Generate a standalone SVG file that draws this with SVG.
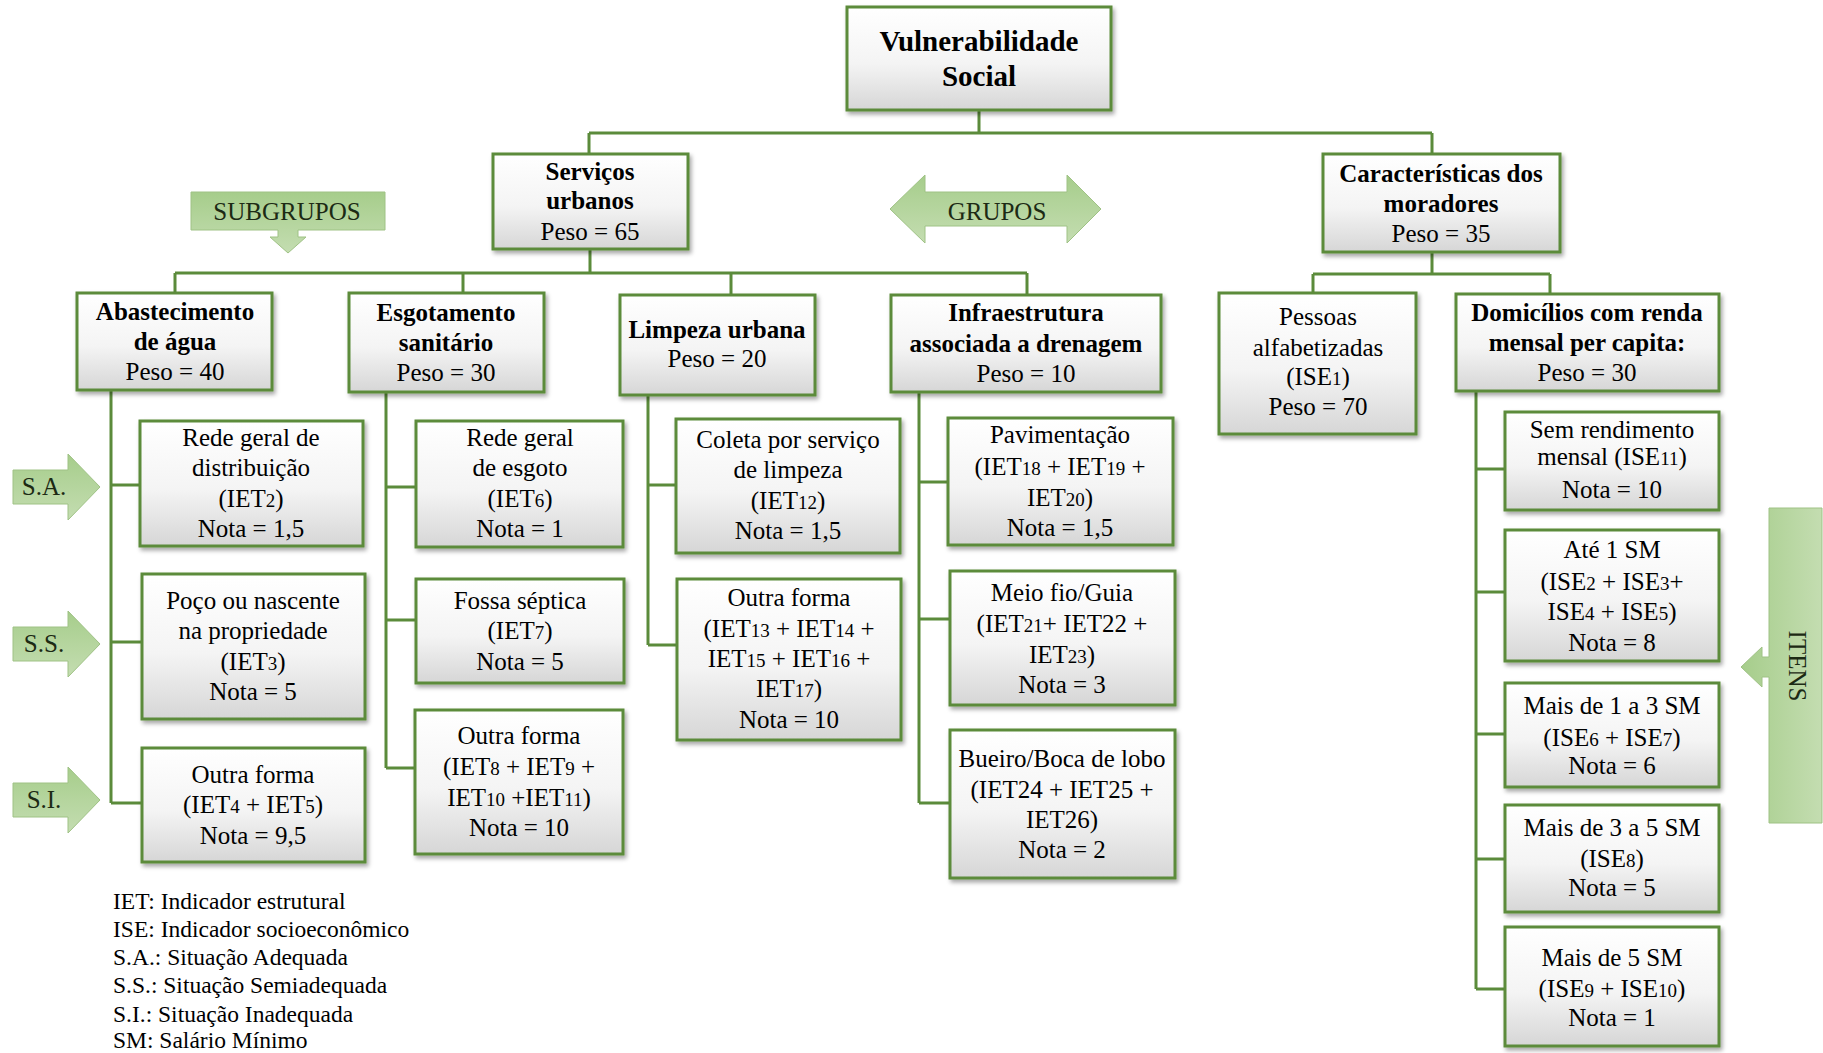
<svg xmlns="http://www.w3.org/2000/svg" width="1823" height="1053" viewBox="0 0 1823 1053">
<defs>
<linearGradient id="bx" x1="0" y1="0" x2="0" y2="1">
<stop offset="0" stop-color="#ffffff"/>
<stop offset="0.55" stop-color="#f4f4f4"/>
<stop offset="1" stop-color="#d6d6d6"/>
</linearGradient>
<linearGradient id="ag" x1="0" y1="0" x2="0" y2="1">
<stop offset="0" stop-color="#a6cd8b"/>
<stop offset="1" stop-color="#c4ddb1"/>
</linearGradient>
<linearGradient id="agh" x1="0" y1="0" x2="1" y2="0">
<stop offset="0" stop-color="#a6cd8b"/>
<stop offset="1" stop-color="#c4ddb1"/>
</linearGradient>
<filter id="sh" x="-10%" y="-10%" width="130%" height="130%">
<feDropShadow dx="2" dy="3" stdDeviation="2" flood-color="#000" flood-opacity="0.35"/>
</filter>
</defs>
<style>
.box{fill:url(#bx);stroke:#5b8b3b;stroke-width:3;filter:url(#sh)}
.ln{fill:none;stroke:#5b8b3b;stroke-width:3}
.arr{fill:url(#ag);stroke:#9fc285;stroke-width:1}
.t{font-family:"Liberation Serif","Times New Roman",serif;font-size:25px;fill:#000;text-anchor:middle}
.b{font-weight:bold}
.s{font-size:19px}
.lg{font-family:"Liberation Serif","Times New Roman",serif;font-size:23.5px;fill:#000}
.at{font-family:"Liberation Serif","Times New Roman",serif;font-size:25px;fill:#1c2a14;text-anchor:middle}
</style>
<rect width="1823" height="1053" fill="#ffffff"/>

<g id="connectors">
<path class="ln" d="M979,110 V133 M589,133 H1432 M589,133 V154 M1432,133 V154"/>
<path class="ln" d="M590,249 V273 M175,273 H1027 M175,273 V293 M463,273 V293 M731,273 V295 M1027,273 V295"/>
<path class="ln" d="M1432,252 V274 M1313,274 H1550 M1313,274 V294 M1550,274 V294"/>
<path class="ln" d="M111,390 V803 M111,485 H140 M111,642 H142 M111,803 H142"/>
<path class="ln" d="M386,392 V768 M386,487 H416 M386,620 H416 M386,768 H415"/>
<path class="ln" d="M648,395 V645 M648,485 H676 M648,645 H677"/>
<path class="ln" d="M919,392 V803 M919,482 H948 M919,619 H950 M919,803 H950"/>
<path class="ln" d="M1476,391 V989 M1476,469 H1505 M1476,592 H1505 M1476,734 H1505 M1476,859 H1505 M1476,989 H1505"/>
</g>

<g id="n-vulnerabilidade">
<rect class="box" x="847" y="7" width="264" height="103"/>
<text class="t b" x="979" y="51" style="font-size:29px">Vulnerabilidade</text>
<text class="t b" x="979" y="86" style="font-size:29px">Social</text>
</g>

<g id="n-servicos">
<rect class="box" x="493" y="154" width="195" height="95"/>
<text class="t b" x="590" y="180">Serviços</text>
<text class="t b" x="590" y="209">urbanos</text>
<text class="t" x="590" y="240">Peso = 65</text>
</g>

<g id="n-caracteristicas">
<rect class="box" x="1323" y="154" width="237" height="98"/>
<text class="t b" x="1441" y="182">Características dos</text>
<text class="t b" x="1441" y="212">moradores</text>
<text class="t" x="1441" y="242">Peso = 35</text>
</g>

<g id="n-abastecimento">
<rect class="box" x="77" y="293" width="195" height="97"/>
<text class="t b" x="175" y="320">Abastecimento</text>
<text class="t b" x="175" y="350">de água</text>
<text class="t" x="175" y="380">Peso = 40</text>
</g>

<g id="n-esgotamento">
<rect class="box" x="349" y="293" width="195" height="99"/>
<text class="t b" x="446" y="321">Esgotamento</text>
<text class="t b" x="446" y="351">sanitário</text>
<text class="t" x="446" y="381">Peso = 30</text>
</g>

<g id="n-limpeza">
<rect class="box" x="620" y="295" width="195" height="100"/>
<text class="t b" x="717" y="338">Limpeza urbana</text>
<text class="t" x="717" y="367">Peso = 20</text>
</g>

<g id="n-infraestrutura">
<rect class="box" x="891" y="295" width="270" height="97"/>
<text class="t b" x="1026" y="321">Infraestrutura</text>
<text class="t b" x="1026" y="352">associada a drenagem</text>
<text class="t" x="1026" y="382">Peso = 10</text>
</g>

<g id="n-pessoas">
<rect class="box" x="1219" y="293" width="197" height="141"/>
<text class="t" x="1318" y="325">Pessoas</text>
<text class="t" x="1318" y="356">alfabetizadas</text>
<text class="t" x="1318" y="385">(ISE<tspan class="s">1</tspan>)</text>
<text class="t" x="1318" y="415">Peso = 70</text>
</g>

<g id="n-domicilios">
<rect class="box" x="1456" y="294" width="263" height="97"/>
<text class="t b" x="1587" y="321">Domicílios com renda</text>
<text class="t b" x="1587" y="351">mensal per capita:</text>
<text class="t" x="1587" y="381">Peso = 30</text>
</g>

<g id="n-rede-distribuicao">
<rect class="box" x="140" y="421" width="223" height="125"/>
<text class="t" x="251" y="446">Rede geral de</text>
<text class="t" x="251" y="476">distribuição</text>
<text class="t" x="251" y="507">(IET<tspan class="s">2</tspan>)</text>
<text class="t" x="251" y="537">Nota = 1,5</text>
</g>

<g id="n-poco">
<rect class="box" x="142" y="574" width="223" height="145"/>
<text class="t" x="253" y="609">Poço ou nascente</text>
<text class="t" x="253" y="639">na propriedade</text>
<text class="t" x="253" y="670">(IET<tspan class="s">3</tspan>)</text>
<text class="t" x="253" y="700">Nota = 5</text>
</g>

<g id="n-outra-agua">
<rect class="box" x="142" y="748" width="223" height="114"/>
<text class="t" x="253" y="783">Outra forma</text>
<text class="t" x="253" y="813">(IET<tspan class="s">4</tspan> + IET<tspan class="s">5</tspan>)</text>
<text class="t" x="253" y="844">Nota = 9,5</text>
</g>

<g id="n-rede-esgoto">
<rect class="box" x="416" y="421" width="207" height="126"/>
<text class="t" x="520" y="446">Rede geral</text>
<text class="t" x="520" y="476">de esgoto</text>
<text class="t" x="520" y="507">(IET<tspan class="s">6</tspan>)</text>
<text class="t" x="520" y="537">Nota = 1</text>
</g>

<g id="n-fossa">
<rect class="box" x="416" y="579" width="208" height="104"/>
<text class="t" x="520" y="609">Fossa séptica</text>
<text class="t" x="520" y="639">(IET<tspan class="s">7</tspan>)</text>
<text class="t" x="520" y="670">Nota = 5</text>
</g>

<g id="n-outra-esgoto">
<rect class="box" x="415" y="710" width="208" height="144"/>
<text class="t" x="519" y="744">Outra forma</text>
<text class="t" x="519" y="775">(IET<tspan class="s">8</tspan> + IET<tspan class="s">9</tspan> +</text>
<text class="t" x="519" y="806">IET<tspan class="s">10</tspan> +IET<tspan class="s">11</tspan>)</text>
<text class="t" x="519" y="836">Nota = 10</text>
</g>

<g id="n-coleta">
<rect class="box" x="676" y="419" width="224" height="134"/>
<text class="t" x="788" y="448">Coleta por serviço</text>
<text class="t" x="788" y="478">de limpeza</text>
<text class="t" x="788" y="509">(IET<tspan class="s">12</tspan>)</text>
<text class="t" x="788" y="539">Nota = 1,5</text>
</g>

<g id="n-outra-limpeza">
<rect class="box" x="677" y="579" width="224" height="161"/>
<text class="t" x="789" y="606">Outra forma</text>
<text class="t" x="789" y="637">(IET<tspan class="s">13</tspan> + IET<tspan class="s">14</tspan> +</text>
<text class="t" x="789" y="667">IET<tspan class="s">15</tspan> + IET<tspan class="s">16</tspan> +</text>
<text class="t" x="789" y="697">IET<tspan class="s">17</tspan>)</text>
<text class="t" x="789" y="728">Nota = 10</text>
</g>

<g id="n-pavimentacao">
<rect class="box" x="948" y="418" width="225" height="127"/>
<text class="t" x="1060" y="443">Pavimentação</text>
<text class="t" x="1060" y="475">(IET<tspan class="s">18</tspan> + IET<tspan class="s">19</tspan> +</text>
<text class="t" x="1060" y="506">IET<tspan class="s">20</tspan>)</text>
<text class="t" x="1060" y="536">Nota = 1,5</text>
</g>

<g id="n-meio-fio">
<rect class="box" x="950" y="571" width="225" height="134"/>
<text class="t" x="1062" y="601">Meio fio/Guia</text>
<text class="t" x="1062" y="632">(IET<tspan class="s">21</tspan>+ IET22 +</text>
<text class="t" x="1062" y="663">IET<tspan class="s">23</tspan>)</text>
<text class="t" x="1062" y="693">Nota = 3</text>
</g>

<g id="n-bueiro">
<rect class="box" x="950" y="730" width="225" height="148"/>
<text class="t" x="1062" y="767">Bueiro/Boca de lobo</text>
<text class="t" x="1062" y="798">(IET24 + IET25 +</text>
<text class="t" x="1062" y="828">IET26)</text>
<text class="t" x="1062" y="858">Nota = 2</text>
</g>

<g id="n-sem-rendimento">
<rect class="box" x="1505" y="412" width="214" height="98"/>
<text class="t" x="1612" y="438">Sem rendimento</text>
<text class="t" x="1612" y="465">mensal (ISE<tspan class="s">11</tspan>)</text>
<text class="t" x="1612" y="498">Nota = 10</text>
</g>

<g id="n-ate-1">
<rect class="box" x="1505" y="530" width="214" height="131"/>
<text class="t" x="1612" y="558">Até 1 SM</text>
<text class="t" x="1612" y="590">(ISE<tspan class="s">2</tspan> + ISE<tspan class="s">3</tspan>+</text>
<text class="t" x="1612" y="620">ISE<tspan class="s">4</tspan> + ISE<tspan class="s">5</tspan>)</text>
<text class="t" x="1612" y="651">Nota = 8</text>
</g>

<g id="n-1-a-3">
<rect class="box" x="1505" y="683" width="214" height="104"/>
<text class="t" x="1612" y="714">Mais de 1 a 3 SM</text>
<text class="t" x="1612" y="746">(ISE<tspan class="s">6</tspan> + ISE<tspan class="s">7</tspan>)</text>
<text class="t" x="1612" y="774">Nota = 6</text>
</g>

<g id="n-3-a-5">
<rect class="box" x="1505" y="805" width="214" height="107"/>
<text class="t" x="1612" y="836">Mais de 3 a 5 SM</text>
<text class="t" x="1612" y="867">(ISE<tspan class="s">8</tspan>)</text>
<text class="t" x="1612" y="896">Nota = 5</text>
</g>

<g id="n-mais-5">
<rect class="box" x="1505" y="927" width="214" height="119"/>
<text class="t" x="1612" y="966">Mais de 5 SM</text>
<text class="t" x="1612" y="997">(ISE<tspan class="s">9</tspan> + ISE<tspan class="s">10</tspan>)</text>
<text class="t" x="1612" y="1026">Nota = 1</text>
</g>

<g id="lbl-subgrupos">
<path class="arr" d="M191,192 H385 V230 H298 V237 H306 L288,253 L270,237 H278 V230 H191 Z"/>
<text class="at" x="287" y="220">SUBGRUPOS</text>
</g>

<g id="lbl-grupos">
<path class="arr" d="M890,209 L925,175 V192 H1067 V175 L1101,209 L1067,243 V226 H925 V243 Z"/>
<text class="at" x="997" y="220">GRUPOS</text>
</g>

<g id="lbl-sa">
<path class="arr" d="M13,470 H68 V454 L100,487 L68,520 V504 H13 Z"/>
<text class="at" x="44" y="495">S.A.</text>
</g>
<g id="lbl-ss">
<path class="arr" d="M13,627 H68 V611 L100,644 L68,677 V661 H13 Z"/>
<text class="at" x="44" y="652">S.S.</text>
</g>
<g id="lbl-si">
<path class="arr" d="M13,783 H68 V767 L100,800 L68,833 V817 H13 Z"/>
<text class="at" x="44" y="808">S.I.</text>
</g>

<g id="lbl-itens">
<path class="arr" style="fill:url(#agh)" d="M1769,508 H1822 V823 H1769 V677 H1762 V687 L1741,667 L1762,647 V657 H1769 Z"/>
<text class="at" x="0" y="0" dominant-baseline="central" transform="translate(1797,666) rotate(90)">ITENS</text>
</g>

<g id="legend">
<text class="lg" x="113" y="909">IET: Indicador estrutural</text>
<text class="lg" x="113" y="937">ISE: Indicador socioeconômico</text>
<text class="lg" x="113" y="965">S.A.: Situação Adequada</text>
<text class="lg" x="113" y="993">S.S.: Situação Semiadequada</text>
<text class="lg" x="113" y="1022">S.I.: Situação Inadequada</text>
<text class="lg" x="113" y="1048">SM: Salário Mínimo</text>
</g>
</svg>
